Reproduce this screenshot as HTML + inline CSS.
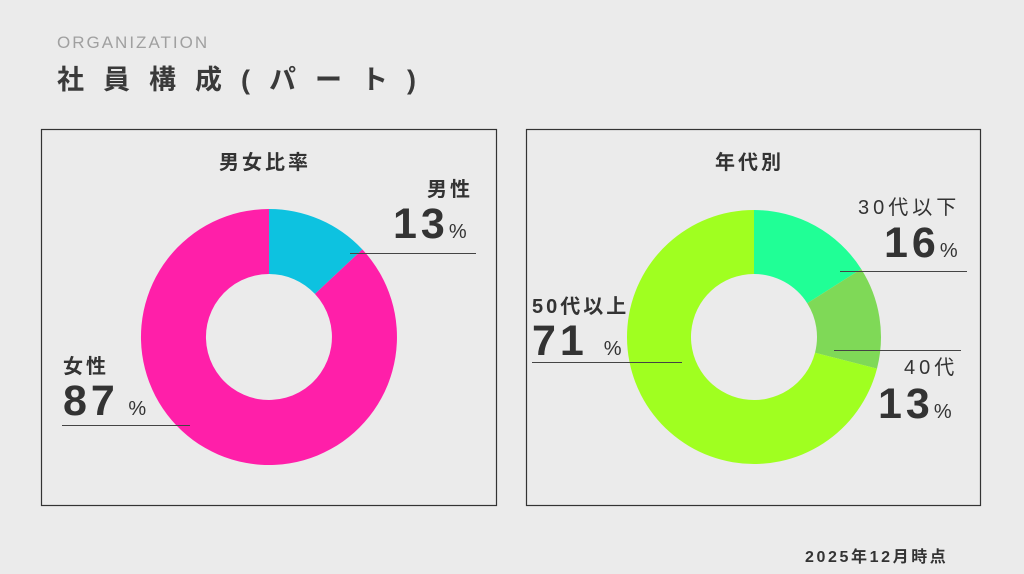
<!DOCTYPE html>
<html><head><meta charset="utf-8"><style>
body{margin:0;width:1024px;height:574px;background:#ebebeb;overflow:hidden;font-family:"Liberation Sans","Noto Sans CJK JP",sans-serif;color:#333}
.t{position:absolute;white-space:nowrap}
</style></head><body>
<svg width="1024" height="574" style="position:absolute;left:0;top:0">
<rect x="41.5" y="129.5" width="455" height="376" fill="none" stroke="#333" stroke-width="1.2"/>
<rect x="526.5" y="129.5" width="454" height="376" fill="none" stroke="#333" stroke-width="1.2"/>
<path d="M269 209 A128 128 0 1 0 362.3 249.4 L314.9 293.9 A63 63 0 1 1 269 274 Z" fill="#ff1fa9"/>
<path d="M269 209 A128 128 0 0 1 362.3 249.4 L314.9 293.9 A63 63 0 0 0 269 274 Z" fill="#0dc2e0"/>
<path d="M754 210 A127 127 0 0 1 861.2 269 L807.2 303.2 A63 63 0 0 0 754 274 Z" fill="#20ff96"/>
<path d="M861.2 269 A127 127 0 0 1 877 368.6 L815 352.7 A63 63 0 0 0 807.2 303.2 Z" fill="#7fd957"/>
<path d="M877 368.6 A127 127 0 1 1 754 210 L754 274 A63 63 0 1 0 815 352.7 Z" fill="#a0ff20"/>
<g stroke="#444" stroke-width="1">
<line x1="350" y1="253.5" x2="476" y2="253.5"/>
<line x1="62" y1="425.5" x2="190" y2="425.5"/>
<line x1="840" y1="271.5" x2="967" y2="271.5"/>
<line x1="834" y1="350.5" x2="961" y2="350.5"/>
<line x1="532" y1="362.5" x2="682" y2="362.5"/>
</g>
</svg>
<div class="t" style="left:57px;top:33px;font-size:17px;color:#a0a0a0;letter-spacing:2px">ORGANIZATION</div>
<div class="t" style="left:57px;top:58px;font-size:27px;font-weight:bold;letter-spacing:19px;color:#3a3a3a">社員構成(パート)</div>
<div class="t" style="left:219px;top:146px;font-size:20px;font-weight:bold;letter-spacing:3px">男女比率</div>
<div class="t" style="left:427px;top:173px;font-size:20px;font-weight:bold;letter-spacing:3px">男性</div>
<div class="t" style="left:393px;top:200px;font-size:43px;font-weight:bold;letter-spacing:4px">13<span style="font-size:20px;font-weight:normal">%</span></div>
<div class="t" style="left:63px;top:350px;font-size:20px;font-weight:bold;letter-spacing:3px">女性</div>
<div class="t" style="left:63px;top:377px;font-size:43px;font-weight:bold;letter-spacing:4px">87<span style="font-size:20px;font-weight:normal"> %</span></div>
<div class="t" style="left:715px;top:146px;font-size:20px;font-weight:bold;letter-spacing:3px">年代別</div>
<div class="t" style="left:858px;top:191px;font-size:20px;letter-spacing:4px">30代以下</div>
<div class="t" style="left:884px;top:219px;font-size:43px;font-weight:bold;letter-spacing:4px">16<span style="font-size:20px;font-weight:normal">%</span></div>
<div class="t" style="left:904px;top:351px;font-size:20px;letter-spacing:4px">40代</div>
<div class="t" style="left:878px;top:380px;font-size:43px;font-weight:bold;letter-spacing:4px">13<span style="font-size:20px;font-weight:normal">%</span></div>
<div class="t" style="left:532px;top:290px;font-size:20px;font-weight:bold;letter-spacing:3px">50代以上</div>
<div class="t" style="left:532px;top:317px;font-size:43px;font-weight:bold;letter-spacing:4px">71 <span style="font-size:20px;font-weight:normal"> %</span></div>
<div class="t" style="left:805px;top:543px;font-size:16px;font-weight:bold;letter-spacing:2.6px">2025年12月時点</div>
</body></html>
